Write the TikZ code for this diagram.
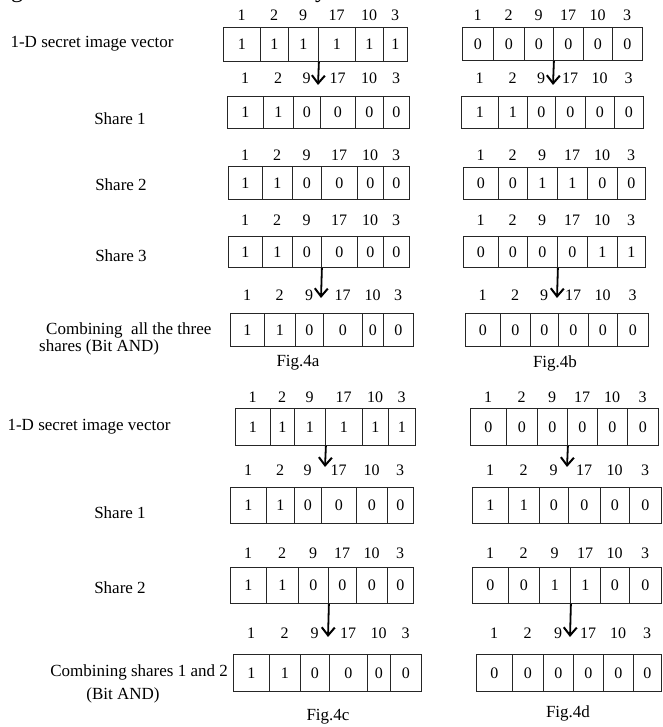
\documentclass[tikz,border=0pt]{standalone}
\usepackage{fontspec}
\setmainfont{Liberation Serif}
\usetikzlibrary{arrows.meta}
\tikzset{
  cell/.style={draw=black!85, line width=0.9pt, anchor=north west, inner sep=0pt, font=\fontsize{16}{16}\selectfont},
  idx/.style={font=\fontsize{16}{16}\selectfont, inner sep=0pt},
  lbl/.style={font=\fontsize{17}{20}\selectfont, inner sep=0pt},
  cut/.style={font=\fontsize{24}{24}\selectfont, inner sep=0pt, anchor=base},
  down/.style={line width=1.8pt, -{Straight Barb[length=8pt,width=13pt,line width=2pt]}},
}
% #1 name, #2 ytop, #3 ybot, #4 label y, #5 dividers x0..x6, #6 values
\newcommand\vecrow[6]{%
  \foreach \k in {0,...,5}{%
    \pgfmathsetmacro\xa{{#5}[\k]}%
    \pgfmathsetmacro\xb{{#5}[\k+1]}%
    \pgfmathtruncatemacro\val{{#6}[\k]}%
    \pgfmathtruncatemacro\lab{{1,2,9,17,10,3}[\k]}%
    \node[cell, minimum width=\xb pt-\xa pt, minimum height=#3pt-#2pt] (#1-\k) at (\xa,#2) {\val};
    \node[idx] (#1-l\k) at ({(\xa+\xb)/2},#4) {\lab};
  }%
}
\begin{document}
\begin{tikzpicture}[x=1pt,y=-1pt]
\useasboundingbox (0,0) rectangle (662,727);

% cut-off line at top (only descenders visible in the reference)
\node[cut] (cg) at (17,-2) {g};
\node[cut] (cy) at (321,-2) {y};

% ---------- Fig.4a ----------
\node[lbl] (ta0) at (92,44) {1-D secret image vector};
\vecrow{a0}{27}{61}{15}{223,260,288,318,355,383,407}{1,1,1,1,1,1}
\coordinate (pa1) at (318,85);
\draw[down] (a0-2.south east) -- (pa1);
\node[lbl] (ta1) at (120,119) {Share 1};
\vecrow{a1}{96}{128}{78}{227,263,293,320,355,383,409}{1,1,0,0,0,0}
\node[lbl] (ta2) at (121,185) {Share 2};
\vecrow{a2}{166}{199}{155}{228,262,292,321,357,383,409}{1,1,0,0,0,0}
\node[lbl] (ta3) at (121,256) {Share 3};
\vecrow{a3}{236}{267}{220}{228,262,292,321,357,383,409}{1,1,0,0,0,0}
\coordinate (pa4) at (321,298);
\draw[down] (a3-2.south east) -- (pa4);
\node[lbl, anchor=west] (ta4) at (46,330) {Combining\ \ all the three};
\node[lbl, anchor=west] (ta4b) at (39,347) {shares (Bit AND)};
\vecrow{a4}{313}{346}{295}{230,264,295,323,362,383,413}{1,1,0,0,0,0}
\node[lbl] (fa) at (298,363) {Fig.4a};

% ---------- Fig.4b ----------
\vecrow{b0}{27}{60}{15}{462,493,524,553,583,612,642}{0,0,0,0,0,0}
\coordinate (pb1) at (553,85);
\draw[down] (b0-2.south east) -- (pb1);
\vecrow{b1}{96}{128}{78}{461,498,527,555,585,614,643}{1,1,0,0,0,0}
\vecrow{b2}{167}{199}{155}{463,498,527,557,587,617,645}{0,0,1,1,0,0}
\vecrow{b3}{236}{267}{220}{463,498,527,557,587,617,645}{0,0,0,0,1,1}
\coordinate (pb4) at (557,298);
\draw[down] (b3-2.south east) -- (pb4);
\vecrow{b4}{313}{346}{295}{465,500,530,558,588,617,648}{0,0,0,0,0,0}
\node[lbl] (fb) at (555,363) {Fig.4b};

% ---------- Fig.4c ----------
\node[lbl] (tc0) at (89,427) {1-D secret image vector};
\vecrow{c0}{408}{445}{397}{235,270,294,325,362,388,415}{1,1,1,1,1,1}
\coordinate (pc1) at (325,467);
\draw[down] (c0-2.south east) -- (pc1);
\node[lbl] (tc1) at (120,513) {Share 1};
\vecrow{c1}{487}{523}{470}{230,266,294,321,356,387,413}{1,1,0,0,0,0}
\node[lbl] (tc2) at (120,588) {Share 2};
\vecrow{c2}{567}{603}{553}{230,266,298,328,356,387,413}{1,1,0,0,0,0}
\coordinate (pc3) at (328,637);
\draw[down] (c2-2.south east) -- (pc3);
\node[lbl, anchor=east] (tc3) at (228,672) {Combining shares 1 and 2};
\node[lbl] (tc3b) at (123,695) {(Bit AND)};
\vecrow{c3}{654}{691}{633}{233,269,300,329,367,390,421}{1,1,0,0,0,0}
\node[lbl] (fc) at (328,717) {Fig.4c};

% ---------- Fig.4d ----------
\vecrow{d0}{408}{445}{397}{470,506,537,567,597,627,658}{0,0,0,0,0,0}
\coordinate (pd1) at (567,467);
\draw[down] (d0-2.south east) -- (pd1);
\vecrow{d1}{487}{523}{470}{472,508,539,568,600,629,661}{1,1,0,0,0,0}
\vecrow{d2}{567}{603}{553}{472,508,539,570,600,629,661}{0,0,1,1,0,0}
\coordinate (pd3) at (570,637);
\draw[down] (d2-2.south east) -- (pd3);
\vecrow{d3}{654}{691}{633}{476,512,543,573,603,633,661}{0,0,0,0,0,0}
\node[lbl] (fd) at (568,713) {Fig.4d};
\end{tikzpicture}
\end{document}
